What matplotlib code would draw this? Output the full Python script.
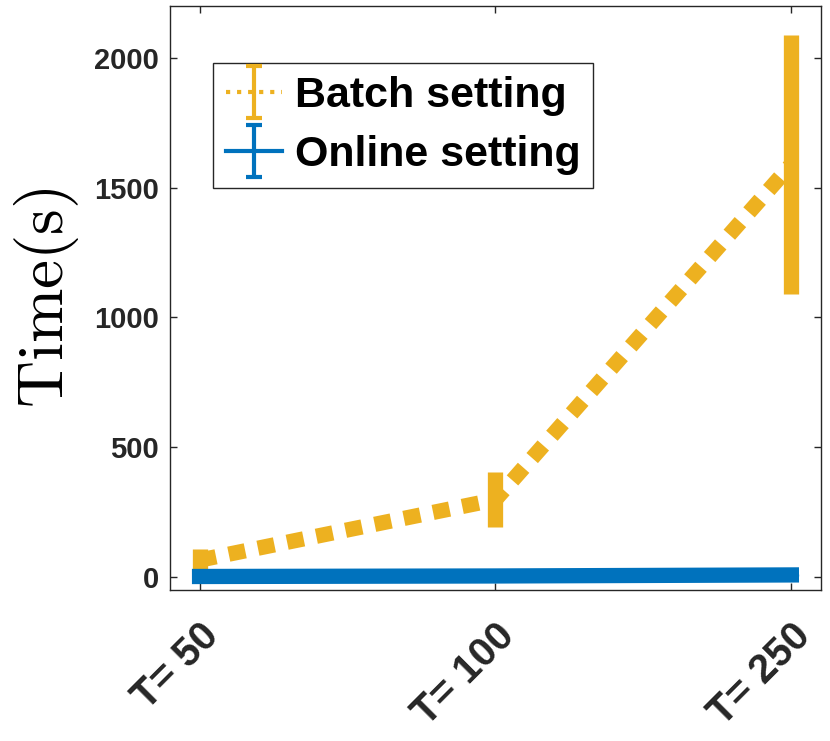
import numpy as np
import matplotlib
matplotlib.use('Agg')
import matplotlib.pyplot as plt
import matplotlib.transforms as mtransforms
from matplotlib.container import ErrorbarContainer
from matplotlib.lines import Line2D
from matplotlib.collections import LineCollection
from matplotlib.legend_handler import HandlerErrorbar

plt.rcParams['font.family'] = 'Liberation Sans'
plt.rcParams['font.weight'] = 'bold'
plt.rcParams['mathtext.fontset'] = 'cm'

labels = ['T= 50', 'T= 100', 'T= 250']
batch_mean = [65, 298, 1590]
batch_err = [43, 105, 500]
online_mean = [2, 4, 8]
online_err = [1, 2, 3]

orange = '#EDB120'
blue = '#0072BD'
dark = '#262626'

fig = plt.figure(figsize=(8.3, 7.41), dpi=100)
ax = fig.add_axes([0.2048, 0.2038, 0.7843, 0.788])

x = np.arange(1, len(labels) + 1)
ax.errorbar(x, batch_mean, yerr=batch_err, color=orange, lw=11,
            linestyle=(0, (1.1, 0.85)), elinewidth=11, capsize=0)
ax.errorbar(x, online_mean, yerr=online_err, color=blue, lw=11,
            elinewidth=11, capsize=0)

ax.set_xlim(0.9, 3.1)
ax.set_ylim(-50, 2200)
ax.set_xticks(x)
ax.set_xticklabels(labels, rotation=45, ha='right', va='top',
                   rotation_mode='anchor', fontsize=29, fontweight='bold',
                   color=dark)
shift = mtransforms.ScaledTranslation(16 / 100, 0, fig.dpi_scale_trans)
for lbl in ax.get_xticklabels():
    lbl.set_transform(lbl.get_transform() + shift)
ax.set_yticks([0, 500, 1000, 1500, 2000])
ax.tick_params(axis='y', labelsize=21, labelcolor=dark, pad=8)
ax.tick_params(direction='in', length=5, width=1, color=dark,
               top=True, right=True)
ax.tick_params(axis='x', pad=19)
for s in ax.spines.values():
    s.set_color(dark)
    s.set_linewidth(1)

ax.set_ylabel(r'$\mathrm{Time(s)}$', fontsize=47)
ax.yaxis.set_label_coords(-0.137, 0.5)

# legend handles with thin lines and caps, like the MATLAB legend
def make_handle(color, ls, label):
    line = Line2D([], [], color=color, ls=ls, lw=3)
    cap = Line2D([], [], color=color, ls='none', marker='_', ms=12, mew=3)
    bars = LineCollection([], colors=color, linewidths=3)
    return ErrorbarContainer((line, (cap, cap), (bars,)), has_xerr=False,
                             has_yerr=True, label=label)

h1 = make_handle(orange, ':', 'Batch setting')
h2 = make_handle(blue, '-', 'Online setting')
leg = ax.legend([h1, h2], ['Batch setting', 'Online setting'],
                loc='upper left', bbox_to_anchor=(213 / 830, 1 - 63 / 741),
                bbox_transform=fig.transFigure, borderaxespad=0,
                prop={'size': 31, 'weight': 'bold'}, handlelength=1.3,
                handletextpad=0.3, labelspacing=0.45, borderpad=0.3,
                fancybox=False, framealpha=1, edgecolor=dark,
                handler_map={ErrorbarContainer: HandlerErrorbar(yerr_size=0.6)})
leg.get_frame().set_linewidth(1)

plt.savefig('out.png', dpi=100)
